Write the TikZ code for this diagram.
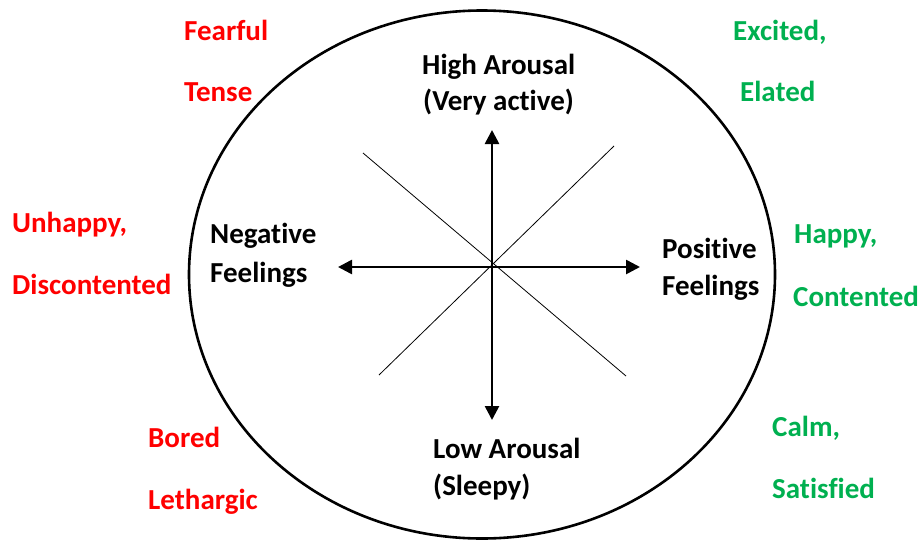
\documentclass[tikz,border=0pt]{standalone}
\usepackage{fontspec}
\setmainfont{Carlito}[Ligatures=NoCommon]
\usetikzlibrary{arrows.meta}
\definecolor{negred}{HTML}{FF0000}
\definecolor{posgreen}{HTML}{00B050}
\tikzset{
  lbl/.style={anchor=base west, inner sep=0pt, font=\bfseries\fontsize{29}{34}\selectfont},
  negword/.style={lbl, text=negred},
  posword/.style={lbl, text=posgreen},
  axis/.style={line width=2.6pt, -{Triangle[width=14pt,length=14pt]}},
  diag/.style={line width=0.8pt},
}
\begin{document}
\begin{tikzpicture}[x=1pt,y=-1pt]
\useasboundingbox (0,0) rectangle (921,541);
\draw[line width=2.6pt] (482,274.5) ellipse [x radius=293, y radius=264];
\coordinate (c) at (492,267);
\coordinate (dul) at (363,153);
\coordinate (dlr) at (626,376);
\coordinate (dur) at (614,146);
\coordinate (dll) at (379,375);
\coordinate (tu) at (492,130);
\coordinate (td) at (492,420);
\coordinate (tl) at (338,267);
\coordinate (tr) at (640,267);
\draw[diag] (dul) -- (dlr);
\draw[diag] (dur) -- (dll);
\draw[axis] (c) -- (tu);
\draw[axis] (c) -- (td);
\draw[axis] (c) -- (tl);
\draw[axis] (c) -- (tr);
% axis labels
\node[lbl] (ha1) at (422,74) {High Arousal};
\node[lbl] (ha2) at (423,110) {(Very active)};
\node[lbl] (la1) at (433,458) {Low Arousal};
\node[lbl] (la2) at (433,495) {(Sleepy)};
\node[lbl] (nf1) at (210,243) {Negative};
\node[lbl] (nf2) at (210,282) {Feelings};
\node[lbl] (pf1) at (662,258) {Positive};
\node[lbl] (pf2) at (662,295) {Feelings};
% red words
\node[negword] (r1) at (184,40) {Fearful};
\node[negword] (r2) at (184,101) {Tense};
\node[negword] (r3) at (12,232) {Unhappy,};
\node[negword] (r4) at (12,294) {Discontented};
\node[negword] (r5) at (148,447) {Bored};
\node[negword] (r6) at (148,509) {Lethargic};
% green words
\node[posword] (g1) at (733,40) {Excited,};
\node[posword] (g2) at (740,101) {Elated};
\node[posword] (g3) at (794,243) {Happy,};
\node[posword] (g4) at (793,306) {Contented};
\node[posword] (g5) at (772,436) {Calm,};
\node[posword] (g6) at (772,498) {Satisfied};
\end{tikzpicture}
\end{document}
